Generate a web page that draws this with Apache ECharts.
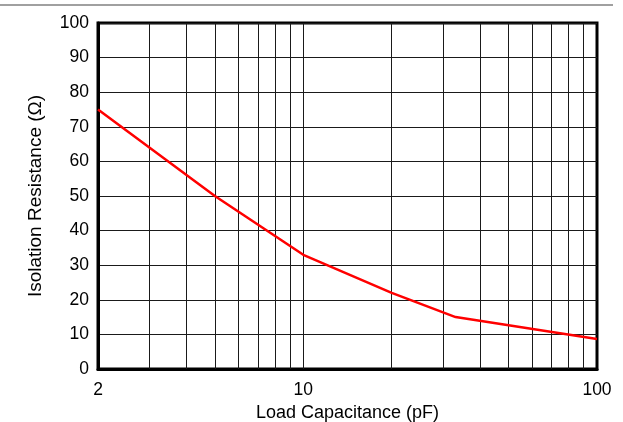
<!DOCTYPE html>
<html>
<head>
<meta charset="utf-8">
<script src="https://cdn.jsdelivr.net/npm/echarts@6/dist/echarts.min.js"></script>
<style>
  html, body { margin: 0; padding: 0; background: #fff; }
  #chart { width: 623px; height: 422px; }
</style>
</head>
<body>
<div id="chart"></div>
<script>
// load capacitance (pF) vs isolation resistance (ohm)
const capacitance = [2, 5, 10, 20, 33, 100];
const resistance = [75, 50, 33, 22, 15, 8.7];
// vertical grid lines of the log axis (decade subdivisions)
const xGridValues = [3, 4, 5, 6, 7, 8, 9, 10, 20, 30, 40, 50, 60, 70, 80, 90];
const xMin = 2;
const xMax = 100;
const yMin = 0;
const yMax = 100;
const yStep = 10;

const font = '"Liberation Sans", Arial, sans-serif';
const myChart = echarts.init(document.getElementById('chart'), null, { renderer: 'canvas' });

const option = {
    backgroundColor: '#fff',
    animation: false,
    grid: {
        left: 98,
        top: 23,
        right: 26,
        bottom: 53,
        containLabel: false,
        outerBoundsMode: 'none',
        show: true,
        borderColor: '#000',
        borderWidth: 3,
        backgroundColor: 'transparent'
    },
    xAxis: {
        type: 'log',
        logBase: 10,
        min: xMin,
        max: xMax,
        name: 'Load Capacitance (pF)',
        nameLocation: 'middle',
        nameGap: 33,
        nameTextStyle: { fontFamily: font, fontSize: 18, color: '#000' },
        axisLine: { show: true, lineStyle: { color: '#000', width: 3 } },
        axisTick: { show: false },
        splitLine: { show: false },
        axisLabel: {
            fontFamily: font, fontSize: 17.5, color: '#000', margin: 12,
            showMinLabel: true, showMaxLabel: true,
            formatter: v => String(Math.round(v))
        }
    },
    yAxis: {
        type: 'value',
        min: yMin,
        max: yMax,
        interval: yStep,
        name: 'Isolation Resistance (Ω)',
        nameLocation: 'middle',
        nameGap: 53,
        nameTextStyle: { fontFamily: font, fontSize: 19, color: '#000' },
        axisLine: { show: true, lineStyle: { color: '#000', width: 3 } },
        axisTick: { show: false },
        splitLine: { show: true, lineStyle: { color: '#1a1a1a', width: 1 } },
        axisLabel: { fontFamily: font, fontSize: 17.5, color: '#000', margin: 9 }
    },
    graphic: [
        {
            type: 'line',
            shape: { x1: 0, y1: 5, x2: 613, y2: 5 },
            style: { stroke: '#808080', lineWidth: 1.5 },
            silent: true
        }
    ],
    series: [{
        type: 'line',
        data: capacitance.map((c, i) => [c, resistance[i]]),
        symbol: 'none',
        lineStyle: { color: '#ff0000', width: 2.5 },
        z: 5,
        markLine: {
            silent: true,
            symbol: 'none',
            label: { show: false },
            lineStyle: { color: '#1a1a1a', width: 1, type: 'solid' },
            emphasis: { disabled: true },
            data: xGridValues.map(v => ({ xAxis: v }))
        }
    }]
};

myChart.setOption(option, true);
</script>
</body>
</html>
